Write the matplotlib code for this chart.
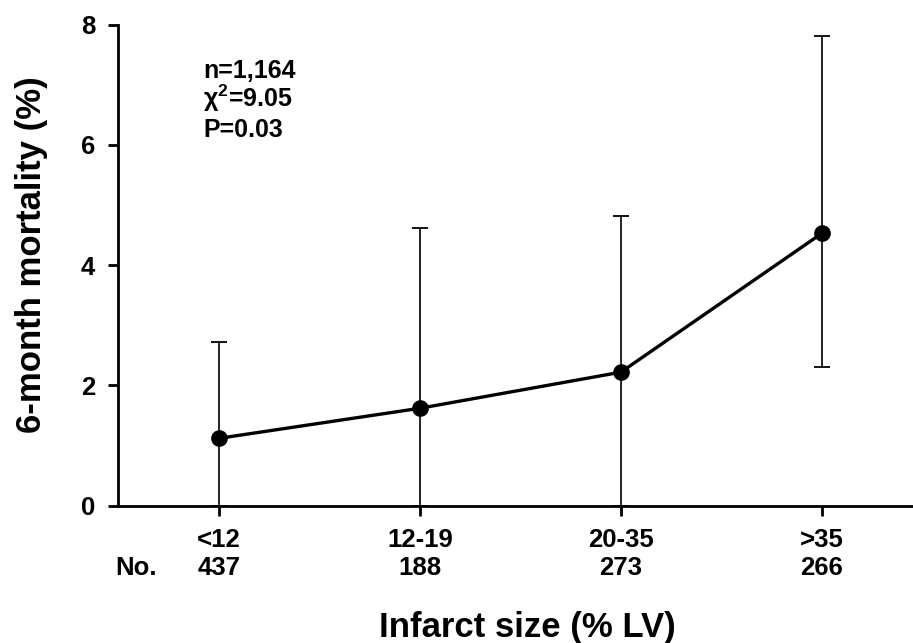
import matplotlib
matplotlib.use("Agg")
import matplotlib.pyplot as plt
import numpy as np

# ---- data ----
categories = ['<12', '12-19', '20-35', '>35']
counts = ['437', '188', '273', '266']
mortality = [1.12, 1.62, 2.22, 4.53]
ci_low = [0.0, 0.0, 0.0, 2.31]
ci_high = [2.72, 4.62, 4.82, 7.81]
y_ticks = [0, 2, 4, 6, 8]
stats_lines = ['n=1,164', '\u03c7$^{2}$=9.05', 'P=0.03']

plt.rcParams['font.family'] = ['Liberation Sans', 'DejaVu Sans']
plt.rcParams['font.weight'] = 'bold'
plt.rcParams['mathtext.fontset'] = 'custom'
plt.rcParams['mathtext.rm'] = 'Liberation Sans:bold'
plt.rcParams['mathtext.it'] = 'Liberation Sans:bold'
plt.rcParams['mathtext.bf'] = 'Liberation Sans:bold'
plt.rcParams['mathtext.default'] = 'rm'

W, H = 913, 643
fig = plt.figure(figsize=(W / 100, H / 100), dpi=100)
ax = fig.add_axes([118 / W, 137.3 / H, (W - 118) / W, (505.7 - 24.5) / H])

x = np.arange(len(categories))
y = np.array(mortality)
lo = np.array(ci_low)
hi = np.array(ci_high)

ax.errorbar(x, y, yerr=[y - lo, hi - y], fmt='none', ecolor='black',
            elinewidth=1.2, capsize=6, capthick=1.3, zorder=2, clip_on=False)
ax.plot(x, y, '-o', color='black', lw=2.4, ms=11, zorder=3, clip_on=False)

ax.set_xlim(-0.502, 3.453)
ax.set_ylim(0, 8)
ax.set_yticks(y_ticks)
ax.set_yticklabels([str(t) for t in y_ticks])
ax.set_xticks(x)
ax.set_xticklabels([f'{c}\n{n}' for c, n in zip(categories, counts)],
                   linespacing=1.2)

for s in ['top', 'right']:
    ax.spines[s].set_visible(False)
for s in ['left', 'bottom']:
    ax.spines[s].set_linewidth(2.0)

ax.tick_params(axis='both', direction='out', length=7.5, width=2.0,
               labelsize=18.5, colors='black')
ax.tick_params(axis='y', pad=9)
ax.tick_params(axis='x', pad=8.5)
for lab in ax.get_xticklabels() + ax.get_yticklabels():
    lab.set_fontweight('bold')

# stats annotation
axh = 505.7 - 24.5
for i, s in enumerate(stats_lines):
    ax.text((203 - 118) / (W - 118), (505.7 - (78 + 29.5 * i)) / axh,
            s, transform=ax.transAxes, fontsize=18, fontweight='bold',
            ha='left', va='baseline')

fig.text(115 / W, 1 - 568 / H, 'No.', fontsize=18.5, fontweight='bold',
         ha='left', va='center')

fig.text(527 / W, 1 - 637 / H, 'Infarct size (% LV)', fontsize=25,
         fontweight='bold', ha='center', va='baseline')
fig.text(32 / W, 1 - 255 / H, '6-month mortality (%)', fontsize=25,
         fontweight='bold', ha='center', va='center', rotation=90)

fig.savefig('out.png', dpi=100)
